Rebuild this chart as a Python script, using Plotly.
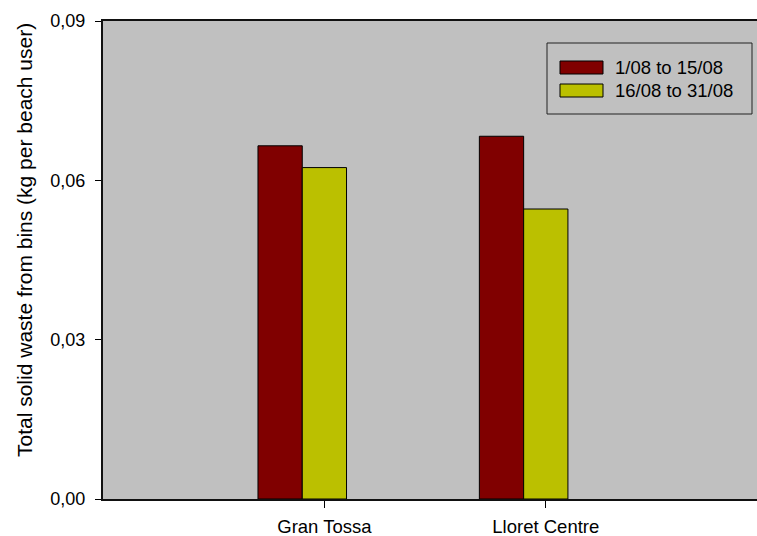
import plotly.graph_objects as go

# Beach waste data: kg of solid waste from bins per beach user
beaches = ["Gran Tossa", "Lloret Centre"]
period_labels = ["1/08 to 15/08", "16/08 to 31/08"]
first_half = [0.0665, 0.0683]   # 1/08 to 15/08, per beach
second_half = [0.0624, 0.0546]  # 16/08 to 31/08, per beach
y_ticks = [0.0, 0.03, 0.06, 0.09]

colors = ["#800000", "#BBC000"]
FONT = "Liberation Sans, Arial, sans-serif"

# Plot area in pixels (used to place the title and legend box)
L, R, T, B = 103, 757, 21, 499
PW, PH = R - L, B - T

def px_x(x):
    return (x - L) / PW

def px_y(y):
    return (B - y) / PH

fig = go.Figure()
# Bars sit in the first two of three slots around each category position
for i, (vals, name) in enumerate(zip([first_half, second_half], period_labels)):
    fig.add_trace(go.Bar(
        x=beaches, y=vals, name=name,
        width=0.2, offset=-0.3 + 0.2 * i,
        marker=dict(color=colors[i], line=dict(color="black", width=1)),
        showlegend=False,
    ))

fig.update_layout(
    width=757, height=536,
    margin=dict(l=L, r=0, t=T, b=536 - B),
    plot_bgcolor="#C0C0C0", paper_bgcolor="white",
    separators=",.",
    barmode="overlay",
    font=dict(family=FONT, size=18, color="black"),
    xaxis=dict(
        type="category", categoryorder="array", categoryarray=beaches,
        range=[-1, 1.954], showgrid=False, zeroline=False,
        showline=True, linecolor="#111", linewidth=2, mirror=True,
        ticks="outside", ticklen=7, tickwidth=1, tickcolor="black",
        ticklabelstandoff=3,
        tickfont=dict(size=18.5),
    ),
    yaxis=dict(
        range=[0, 0.09], tickvals=y_ticks, tickformat=".2f",
        showgrid=False, zeroline=False,
        showline=True, linecolor="#111", linewidth=2,
        ticks="outside", ticklen=6, tickwidth=1, tickcolor="black",
        ticklabelstandoff=6,
        tickfont=dict(size=18),
    ),
)

# Y-axis title
fig.add_annotation(xref="paper", yref="paper", x=px_x(24), y=px_y(240),
                   text="Total solid waste from bins (kg per beach user)",
                   textangle=-90, showarrow=False, xanchor="center", yanchor="middle",
                   font=dict(size=21, family=FONT))

# Legend box with wide swatches
fig.add_shape(type="rect", xref="paper", yref="paper",
              x0=px_x(547), x1=px_x(752), y0=px_y(114), y1=px_y(43),
              line=dict(color="#222", width=1), fillcolor="rgba(0,0,0,0)")
for i, name in enumerate(period_labels):
    cy = [67.5, 90.5][i]
    fig.add_shape(type="rect", xref="paper", yref="paper",
                  x0=px_x(560), x1=px_x(603), y0=px_y(cy + 6.5), y1=px_y(cy - 6.5),
                  line=dict(color="black", width=1), fillcolor=colors[i])
    fig.add_annotation(xref="paper", yref="paper", x=px_x(613), y=px_y(cy),
                       text=name, showarrow=False, xanchor="left", yanchor="middle",
                       font=dict(size=18.5, family=FONT))

fig.write_html("out.html")
